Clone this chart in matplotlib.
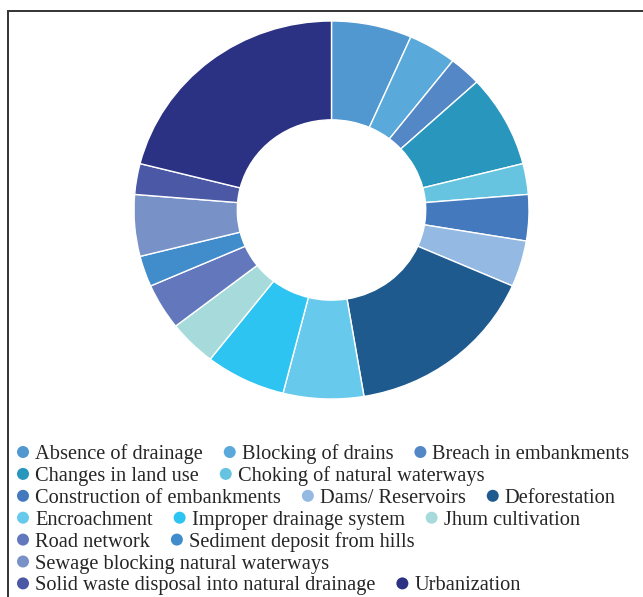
import matplotlib
matplotlib.use("Agg")
import matplotlib.pyplot as plt
from matplotlib.patches import Ellipse, Rectangle

categories = [
    "Absence of drainage", "Blocking of drains", "Breach in embankments",
    "Changes in land use", "Choking of natural waterways",
    "Construction of embankments", "Dams/ Reservoirs", "Deforestation",
    "Encroachment", "Improper drainage system", "Jhum cultivation",
    "Road network", "Sediment deposit from hills",
    "Sewage blocking natural waterways",
    "Solid waste disposal into natural drainage", "Urbanization",
]
counts = [5, 3, 2, 6, 2, 3, 3, 12, 5, 5, 3, 3, 2, 4, 2, 16]
colors = [
    "#5197D0", "#59A9DB", "#5387C6", "#2896BD", "#67C4E0", "#4479BD",
    "#94B9E2", "#1F5A8F", "#67CAEC", "#2DC4F2", "#A6DADB", "#6378BC",
    "#418CCA", "#7892C8", "#4A58A6", "#2C3283",
]
# legend items per row
legend_rows = [3, 2, 3, 3, 2, 1, 2]

W, H = 643, 597
fig = plt.figure(figsize=(W / 100, H / 100), dpi=100)

# outer frame
fig.add_artist(Rectangle((7.5 / W, -0.01), 1.2, (H - 10.5) / H + 0.01,
                         transform=fig.transFigure, fill=False,
                         edgecolor="#333333", linewidth=1.4))

# donut
cx, cy, rx, ry = 331.5, 210.0, 197.5, 189.0
ax = fig.add_axes([(cx - rx) / W, (H - cy - ry) / H, 2 * rx / W, 2 * ry / H])
ax.pie(counts, colors=colors, startangle=90, counterclock=False,
       radius=1.0,
       wedgeprops=dict(width=0.523, edgecolor="white", linewidth=1.0))
ax.set_aspect("auto")
ax.set_xlim(-1, 1)
ax.set_ylim(-1, 1)
ax.axis("off")

# legend laid out in rows
fig.canvas.draw()
renderer = fig.canvas.get_renderer()
font = dict(family="Liberation Serif", size=14.7, color="#262626")
y0, dy = 452.0, 21.9
idx = 0
for r, n in enumerate(legend_rows):
    y = y0 + r * dy
    x = 23.0
    for k in range(n):
        i = idx + k
        fig.add_artist(Ellipse((x / W, (H - y) / H), 12 / W, 12 / H,
                               transform=fig.transFigure,
                               facecolor=colors[i], edgecolor="none"))
        t = fig.text((x + 12) / W, (H - y) / H, categories[i],
                     va="center_baseline", ha="left", **font)
        bb = t.get_window_extent(renderer)
        x = bb.x1 + 27
    idx += n

fig.savefig("out.png", dpi=100)
